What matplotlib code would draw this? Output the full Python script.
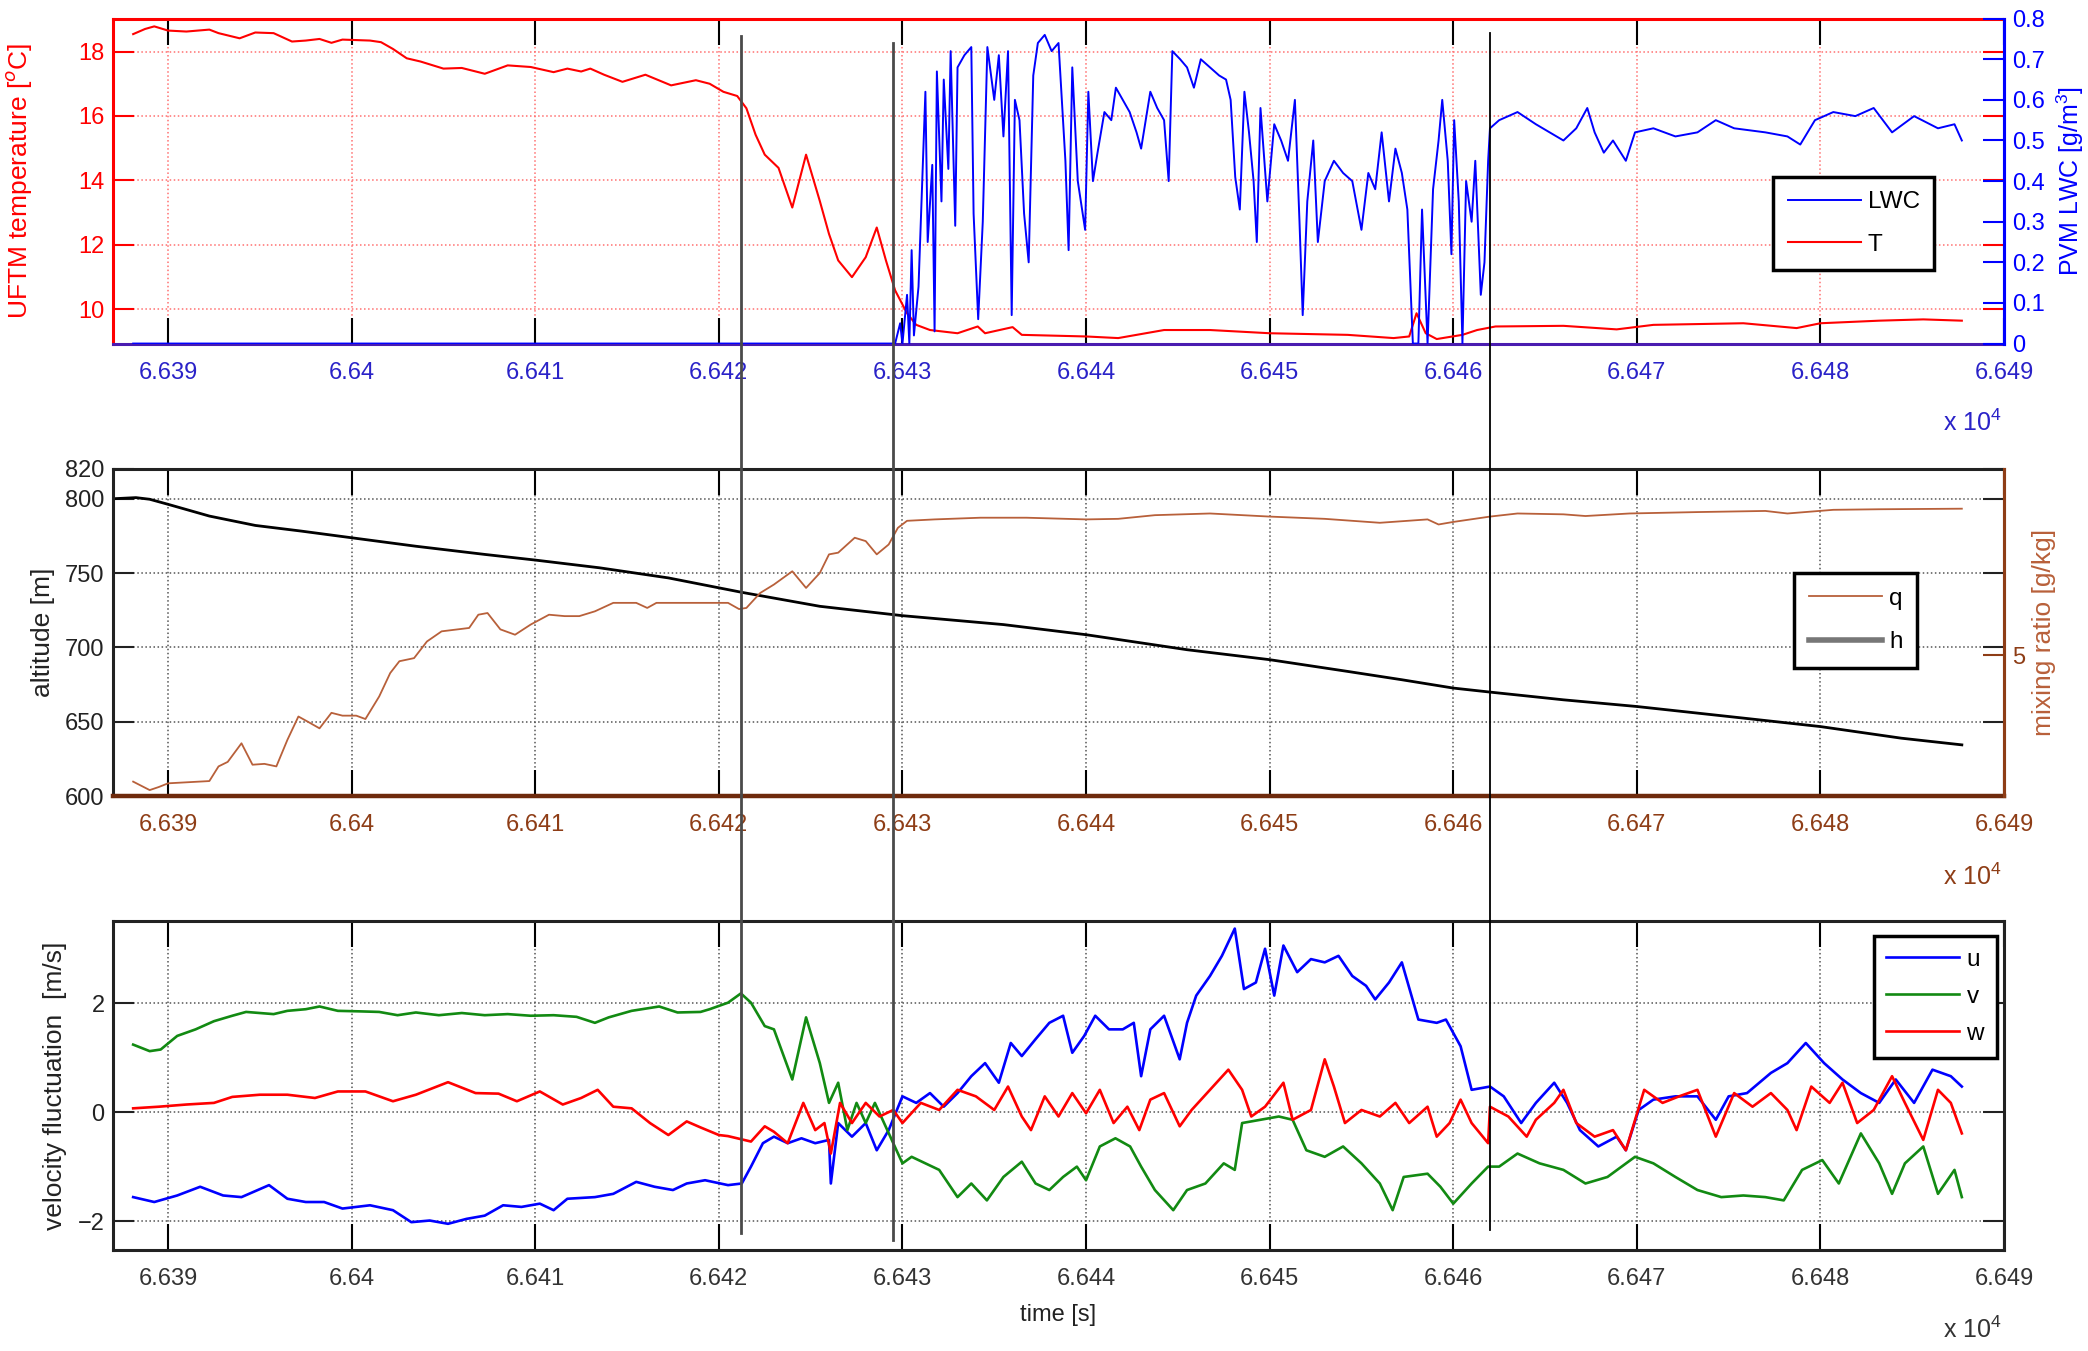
import matplotlib.pyplot as plt
import matplotlib.transforms as mtransforms
from matplotlib.lines import Line2D
from matplotlib.ticker import FuncFormatter

plt.rcParams['font.family'] = ['Liberation Sans', 'DejaVu Sans']
plt.rcParams['mathtext.fontset'] = 'custom'
plt.rcParams['mathtext.rm'] = 'Liberation Sans'

# ---- panel 1: temperature and LWC ----
T_t = [66388.1, 66388.75, 66389.25, 66390.0, 66391.0, 66392.25, 66392.75, 66393.9, 66394.75, 66395.75,
       66396.75, 66397.5, 66398.25, 66398.9, 66399.5, 66401.0, 66401.6, 66402.25, 66403.0, 66403.75,
       66405.0, 66406.0, 66407.25, 66408.5, 66409.75, 66411.0, 66411.75, 66412.5, 66413.0, 66413.75,
       66414.75, 66416.0, 66417.4, 66418.75, 66419.5, 66420.25, 66421.0, 66421.5, 66422.0, 66422.5,
       66423.25, 66424.0, 66424.75, 66425.5, 66426.0, 66426.5, 66427.25, 66428.0, 66428.6, 66429.1,
       66429.6, 66430.25, 66430.75, 66431.5, 66433.0, 66434.1, 66434.5, 66436.0, 66436.5, 66440.0,
       66441.75, 66444.25, 66446.75, 66450.0, 66454.25, 66456.75, 66457.6, 66458.0, 66458.5, 66459.1,
       66460.5, 66461.3, 66462.3, 66466.0, 66468.9, 66470.9, 66475.8, 66478.7, 66480.0, 66483.2,
       66485.6, 66487.7]
T = [18.54, 18.70, 18.78, 18.65, 18.62, 18.68, 18.57, 18.41, 18.59, 18.57,
     18.31, 18.34, 18.39, 18.27, 18.37, 18.34, 18.29, 18.08, 17.79, 17.69,
     17.47, 17.49, 17.31, 17.57, 17.52, 17.36, 17.47, 17.38, 17.47, 17.28,
     17.06, 17.28, 16.95, 17.11, 17.0, 16.75, 16.62, 16.24, 15.42, 14.80,
     14.39, 13.16, 14.80, 13.36, 12.34, 11.52, 11.0, 11.62, 12.54, 11.52,
     10.59, 9.88, 9.52, 9.36, 9.26, 9.47, 9.26, 9.45, 9.21, 9.16,
     9.11, 9.36, 9.36, 9.26, 9.21, 9.11, 9.16, 9.88, 9.26, 9.08,
     9.21, 9.36, 9.47, 9.49, 9.38, 9.52, 9.57, 9.42, 9.57, 9.65,
     9.69, 9.65]

lwc_t = [66388.1, 66429.6, 66429.875, 66430.0, 66430.25, 66430.375, 66430.5, 66430.625, 66430.875, 66431.0,
         66431.25, 66431.375, 66431.625, 66431.75, 66431.875, 66432.125, 66432.25, 66432.5, 66432.625, 66432.875,
         66433.0, 66433.375, 66433.75, 66433.875, 66434.125, 66434.375, 66434.625, 66435.0, 66435.25, 66435.5,
         66435.75, 66435.95, 66436.125, 66436.375, 66436.625, 66436.875, 66437.125, 66437.375, 66437.75, 66438.125,
         66438.5, 66438.875, 66439.05, 66439.25, 66439.55, 66439.95, 66440.125, 66440.375, 66440.625, 66441.0,
         66441.375, 66441.625, 66442.0, 66442.375, 66442.75, 66443.0, 66443.25, 66443.5, 66443.875, 66444.25,
         66444.5, 66444.7, 66445.125, 66445.5, 66445.875, 66446.25, 66446.75, 66447.25, 66447.625, 66447.875,
         66448.125, 66448.375, 66448.625, 66448.875, 66449.125, 66449.3, 66449.5, 66449.875, 66450.25, 66450.625,
         66451.0, 66451.375, 66451.625, 66451.8, 66452.05, 66452.375, 66452.625, 66453.0, 66453.5, 66454.0,
         66454.5, 66455.0, 66455.375, 66455.75, 66456.1, 66456.5, 66456.85, 66457.2, 66457.5, 66457.8,
         66458.1, 66458.3, 66458.6, 66458.9, 66459.2, 66459.4, 66459.7, 66459.9, 66460.05, 66460.3,
         66460.5, 66460.7, 66461.0, 66461.2, 66461.5, 66461.7, 66461.9, 66462.0, 66462.5, 66463.5,
         66464.5, 66466.0, 66466.7, 66467.3, 66467.7, 66468.2, 66468.7, 66469.4, 66469.9, 66470.9,
         66472.1, 66473.3, 66474.3, 66475.3, 66477.0, 66478.2, 66478.9, 66479.7, 66480.7, 66481.9,
         66482.9, 66483.9, 66485.1, 66486.4, 66487.3, 66487.7]
lwc = [0, 0, 0.05, 0.0, 0.12, 0.0, 0.23, 0.02, 0.14, 0.30,
       0.62, 0.25, 0.44, 0.03, 0.67, 0.35, 0.65, 0.43, 0.72, 0.29,
       0.68, 0.71, 0.73, 0.32, 0.06, 0.30, 0.73, 0.60, 0.71, 0.51,
       0.72, 0.07, 0.60, 0.55, 0.32, 0.20, 0.66, 0.74, 0.76, 0.72,
       0.74, 0.45, 0.23, 0.68, 0.40, 0.28, 0.62, 0.40, 0.47, 0.57,
       0.55, 0.63, 0.60, 0.57, 0.52, 0.48, 0.55, 0.62, 0.58, 0.55,
       0.40, 0.72, 0.70, 0.68, 0.63, 0.70, 0.68, 0.66, 0.65, 0.60,
       0.41, 0.33, 0.62, 0.52, 0.40, 0.25, 0.58, 0.35, 0.54, 0.50,
       0.45, 0.60, 0.30, 0.07, 0.35, 0.50, 0.25, 0.40, 0.45, 0.42,
       0.40, 0.28, 0.42, 0.38, 0.52, 0.35, 0.48, 0.42, 0.33, 0.0,
       0.0, 0.33, 0.0, 0.38, 0.50, 0.60, 0.45, 0.22, 0.55, 0.35,
       0.0, 0.40, 0.30, 0.45, 0.12, 0.20, 0.45, 0.53, 0.55, 0.57,
       0.54, 0.50, 0.53, 0.58, 0.52, 0.47, 0.50, 0.45, 0.52, 0.53,
       0.51, 0.52, 0.55, 0.53, 0.52, 0.51, 0.49, 0.55, 0.57, 0.56,
       0.58, 0.52, 0.56, 0.53, 0.54, 0.50]

# ---- panel 2: altitude and mixing ratio ----
h_t = [66387.1, 66388.25, 66389.0, 66390.0, 66392.25, 66394.75, 66397.25, 66400.0, 66403.5, 66407.25,
       66410.0, 66413.5, 66417.25, 66421.25, 66425.5, 66430.0, 66435.5, 66440.0, 66445.5, 66450.0,
       66454.25, 66457.2, 66460.0, 66462.0, 66466.0, 66470.0, 66475.8, 66480.0, 66484.4, 66487.7]
h = [800.0, 800.7, 799.6, 796.2, 788.3, 782.0, 778.2, 773.7, 768.0, 762.5,
     758.7, 753.5, 746.7, 737.0, 727.6, 721.3, 715.3, 708.5, 698.4, 691.7,
     683.8, 678.2, 672.6, 669.9, 664.7, 660.2, 652.4, 646.7, 638.9, 634.4]

q_t = [66388.1, 66389.0, 66389.5, 66390.0, 66392.25, 66392.75, 66393.25, 66394.0, 66394.6, 66395.25,
       66395.9, 66396.5, 66397.1, 66397.6, 66398.25, 66398.9, 66399.5, 66400.25, 66400.75, 66401.5,
       66402.1, 66402.6, 66403.4, 66404.1, 66404.9, 66406.4, 66406.9, 66407.4, 66408.1, 66408.9,
       66409.75, 66410.75, 66411.6, 66412.4, 66413.25, 66414.25, 66415.5, 66416.1, 66416.6, 66418.5,
       66420.5, 66421.1, 66421.5, 66422.25, 66423.0, 66424.0, 66424.75, 66425.5, 66426.0, 66426.5,
       66427.4, 66428.0, 66428.6, 66429.25, 66429.75, 66430.25, 66431.75, 66434.25, 66436.75, 66440.0,
       66441.75, 66443.75, 66446.75, 66450.0, 66453.0, 66456.0, 66458.6, 66459.2, 66460.0, 66462.0,
       66463.5, 66466.0, 66467.2, 66469.6, 66473.3, 66477.0, 66478.2, 66480.7, 66483.2, 66487.7]
q = [4.551, 4.521, 4.532, 4.545, 4.553, 4.605, 4.621, 4.687, 4.611, 4.614,
     4.605, 4.699, 4.782, 4.764, 4.740, 4.795, 4.785, 4.785, 4.773, 4.853,
     4.936, 4.978, 4.989, 5.048, 5.084, 5.096, 5.143, 5.149, 5.091, 5.072,
     5.108, 5.143, 5.138, 5.138, 5.155, 5.185, 5.185, 5.167, 5.185, 5.185,
     5.185, 5.163, 5.167, 5.220, 5.250, 5.297, 5.238, 5.291, 5.357, 5.363,
     5.416, 5.404, 5.357, 5.392, 5.451, 5.476, 5.481, 5.487, 5.487, 5.481,
     5.483, 5.496, 5.502, 5.491, 5.483, 5.469, 5.481, 5.463, 5.472, 5.491,
     5.502, 5.499, 5.493, 5.502, 5.507, 5.511, 5.502, 5.515, 5.517, 5.519]

# ---- panel 3: velocity fluctuations ----
u_t = [66388.1, 66389.25, 66390.5, 66391.75, 66393.0, 66394.0, 66395.5, 66396.5, 66397.5, 66398.5,
       66399.5, 66401.0, 66402.25, 66403.25, 66404.25, 66405.25, 66406.25, 66407.25, 66408.25, 66409.25,
       66410.25, 66411.0, 66411.75, 66413.25, 66414.25, 66415.5, 66416.5, 66417.5, 66418.25, 66419.25,
       66420.5, 66421.25, 66421.75, 66422.4, 66423.0, 66423.75, 66424.5, 66425.25, 66426.0, 66426.1,
       66426.5, 66427.25, 66428.0, 66428.6, 66429.25, 66430.0, 66430.75, 66431.5, 66432.25, 66433.0,
       66433.75, 66434.5, 66435.25, 66435.9, 66436.5, 66437.25, 66438.0, 66438.75, 66439.25, 66439.9,
       66440.5, 66441.25, 66442.0, 66442.6, 66443.0, 66443.5, 66444.25, 66445.1, 66445.5, 66446.0,
       66446.75, 66447.4, 66448.1, 66448.6, 66449.25, 66449.75, 66450.25, 66450.75, 66451.5, 66452.25,
       66453.0, 66453.75, 66454.5, 66455.25, 66455.75, 66456.5, 66457.2, 66458.1, 66459.1, 66459.6,
       66460.4, 66461.0, 66462.0, 66462.75, 66463.7, 66464.5, 66465.5, 66466.2, 66466.9, 66467.9,
       66468.9, 66469.4, 66470.1, 66470.9, 66472.1, 66473.3, 66474.3, 66475.0, 66476.0, 66477.3,
       66478.2, 66479.2, 66480.2, 66481.2, 66482.2, 66483.2, 66484.1, 66485.1, 66486.1, 66487.1,
       66487.7]
u = [-1.56, -1.65, -1.53, -1.37, -1.53, -1.56, -1.34, -1.59, -1.65, -1.65,
     -1.77, -1.71, -1.80, -2.02, -1.99, -2.05, -1.96, -1.90, -1.71, -1.74,
     -1.68, -1.80, -1.59, -1.56, -1.50, -1.28, -1.37, -1.43, -1.31, -1.25,
     -1.34, -1.31, -1.00, -0.57, -0.45, -0.57, -0.48, -0.57, -0.51, -1.31,
     -0.20, -0.45, -0.20, -0.70, -0.33, 0.29, 0.17, 0.35, 0.10, 0.35,
     0.66, 0.90, 0.54, 1.27, 1.03, 1.34, 1.64, 1.77, 1.09, 1.40,
     1.77, 1.52, 1.52, 1.64, 0.66, 1.52, 1.77, 0.97, 1.64, 2.14,
     2.50, 2.87, 3.37, 2.26, 2.38, 3.00, 2.14, 3.06, 2.57, 2.81,
     2.75, 2.87, 2.50, 2.32, 2.07, 2.38, 2.75, 1.70, 1.64, 1.70,
     1.21, 0.41, 0.47, 0.29, -0.20, 0.17, 0.54, 0.17, -0.33, -0.63,
     -0.45, -0.70, 0.04, 0.23, 0.29, 0.29, -0.14, 0.29, 0.35, 0.72,
     0.90, 1.27, 0.90, 0.60, 0.35, 0.17, 0.60, 0.17, 0.78, 0.66,
     0.47]

v_t = [66388.1, 66389.0, 66389.6, 66390.5, 66391.5, 66392.5, 66393.5, 66394.25, 66395.0, 66395.75,
       66396.5, 66397.5, 66398.25, 66399.25, 66400.5, 66401.5, 66402.5, 66403.5, 66404.75, 66406.0,
       66407.25, 66408.5, 66409.75, 66411.0, 66412.25, 66413.25, 66414.0, 66415.25, 66416.75, 66417.75,
       66419.0, 66419.5, 66420.5, 66421.2, 66421.75, 66422.5, 66423.0, 66424.0, 66424.75, 66425.5,
       66426.0, 66426.5, 66427.0, 66427.5, 66428.0, 66428.5, 66429.0, 66429.5, 66430.0, 66430.5,
       66431.25, 66432.0, 66433.0, 66433.75, 66434.6, 66435.5, 66436.5, 66437.25, 66438.0, 66438.75,
       66439.5, 66440.0, 66440.75, 66441.6, 66442.4, 66443.0, 66443.75, 66444.75, 66445.5, 66446.5,
       66447.5, 66448.1, 66448.5, 66449.5, 66450.5, 66451.25, 66452.0, 66453.0, 66454.0, 66455.0,
       66456.0, 66456.7, 66457.3, 66458.6, 66459.3, 66460.0, 66461.0, 66461.9, 66462.5, 66463.5,
       66464.7, 66466.0, 66467.2, 66468.4, 66469.9, 66470.9, 66472.1, 66473.3, 66474.6, 66475.8,
       66477.0, 66478.0, 66479.0, 66480.1, 66481.0, 66482.2, 66483.2, 66483.9, 66484.6, 66485.6,
       66486.4, 66487.3, 66487.7]
v = [1.24, 1.12, 1.15, 1.40, 1.52, 1.67, 1.77, 1.84, 1.82, 1.80,
     1.86, 1.89, 1.94, 1.86, 1.85, 1.84, 1.78, 1.83, 1.78, 1.82,
     1.78, 1.80, 1.77, 1.78, 1.75, 1.64, 1.74, 1.86, 1.94, 1.83,
     1.84, 1.89, 2.01, 2.18, 2.01, 1.58, 1.52, 0.60, 1.74, 0.90,
     0.17, 0.54, -0.33, 0.17, -0.20, 0.17, -0.20, -0.57, -0.94, -0.82,
     -0.94, -1.06, -1.56, -1.31, -1.62, -1.19, -0.91, -1.31, -1.43, -1.19,
     -1.00, -1.25, -0.63, -0.48, -0.63, -1.00, -1.43, -1.80, -1.43, -1.31,
     -0.94, -1.06, -0.20, -0.14, -0.08, -0.14, -0.70, -0.82, -0.63, -0.94,
     -1.31, -1.80, -1.19, -1.13, -1.37, -1.68, -1.31, -1.00, -1.00, -0.76,
     -0.94, -1.06, -1.31, -1.19, -0.82, -0.94, -1.19, -1.43, -1.56, -1.53,
     -1.56, -1.62, -1.06, -0.88, -1.31, -0.39, -0.94, -1.50, -0.94, -0.63,
     -1.50, -1.06, -1.56]

w_t = [66388.1, 66389.5, 66391.0, 66392.5, 66393.5, 66395.0, 66396.5, 66398.0, 66399.25, 66400.75,
       66402.25, 66403.5, 66405.25, 66406.75, 66408.0, 66409.0, 66410.25, 66411.5, 66412.5, 66413.4,
       66414.25, 66415.25, 66416.25, 66417.25, 66418.25, 66419.0, 66420.0, 66420.5, 66421.75, 66422.5,
       66423.0, 66423.75, 66424.6, 66425.25, 66425.75, 66426.1, 66426.6, 66427.25, 66428.0, 66428.75,
       66429.5, 66430.0, 66431.0, 66432.0, 66433.0, 66434.0, 66435.0, 66435.75, 66436.5, 66437.0,
       66437.75, 66438.5, 66439.25, 66440.0, 66440.75, 66441.5, 66442.25, 66442.9, 66443.5, 66444.25,
       66445.1, 66445.75, 66446.75, 66447.75, 66448.5, 66449.0, 66449.75, 66450.75, 66451.25, 66452.25,
       66453.0, 66453.5, 66454.1, 66455.0, 66456.0, 66456.85, 66457.6, 66458.6, 66459.1, 66459.8,
       66460.4, 66461.0, 66461.9, 66462.0, 66463.0, 66464.0, 66464.5, 66465.5, 66466.0, 66466.7,
       66467.7, 66468.7, 66469.4, 66470.4, 66471.4, 66472.3, 66473.3, 66474.3, 66475.3, 66476.3,
       66477.3, 66478.2, 66478.7, 66479.5, 66480.5, 66481.2, 66482.0, 66482.9, 66483.9, 66484.6,
       66485.6, 66486.4, 66487.1, 66487.7]
w = [0.07, 0.10, 0.14, 0.17, 0.28, 0.32, 0.32, 0.26, 0.38, 0.38,
     0.20, 0.32, 0.55, 0.35, 0.34, 0.20, 0.38, 0.14, 0.26, 0.41,
     0.10, 0.07, -0.20, -0.42, -0.17, -0.28, -0.42, -0.44, -0.54, -0.26,
     -0.36, -0.57, 0.17, -0.33, -0.20, -0.76, 0.17, -0.20, 0.17, -0.08,
     0.04, -0.20, 0.17, 0.04, 0.41, 0.29, 0.04, 0.47, -0.08, -0.33,
     0.29, -0.08, 0.35, -0.02, 0.41, -0.20, 0.10, -0.33, 0.23, 0.35,
     -0.26, 0.04, 0.41, 0.78, 0.41, -0.08, 0.10, 0.54, -0.14, 0.04,
     0.97, 0.47, -0.20, 0.04, -0.08, 0.17, -0.20, 0.10, -0.45, -0.20,
     0.23, -0.20, -0.57, 0.10, -0.08, -0.45, -0.14, 0.17, 0.41, -0.20,
     -0.45, -0.33, -0.70, 0.41, 0.17, 0.29, 0.41, -0.45, 0.35, 0.10,
     0.35, 0.04, -0.33, 0.47, 0.17, 0.54, -0.20, 0.04, 0.66, 0.17,
     -0.51, 0.41, 0.17, -0.39]

# vertical marker lines (time, top, bottom in figure fraction)
vline_t = [66421.2, 66429.5, 66462.0]
vline_top = [0.9734, 0.9682, 0.9756]
vline_bot = [0.0873, 0.0822, 0.0896]

xticks = [66390 + 10 * i for i in range(11)]
xfmt = FuncFormatter(lambda x, p: f'{x / 1e4:g}')

RED = '#ff0000'
BLUE = '#0000ff'
XBLUE = '#2a22c8'
BROWN = '#b8603a'
DBROWN = '#8e3d16'
GREEN = '#128a12'
FS = 17      # tick labels
LFS = 19     # axis labels
GFS = 17.5   # legends

fig = plt.figure(figsize=(20.88, 13.51), dpi=100)
L, W = 0.0541, 0.9057
ax1 = fig.add_axes([L, 0.7457, W, 0.2405])
ax2 = fig.add_axes([L, 0.4108, W, 0.2421])
ax3 = fig.add_axes([L, 0.0748, W, 0.2435])


def setup_x(ax, labcol, botcol, topcol, gridcol):
    ax.set_xlim(66387, 66490)
    ax.set_xticks(xticks)
    ax.xaxis.set_major_formatter(xfmt)
    ax.tick_params(axis='x', direction='in', length=19, width=1.5, top=True,
                   pad=13, labelsize=FS, labelcolor=labcol)
    for tk in ax.xaxis.get_major_ticks():
        tk.tick1line.set_color(botcol)
        tk.tick2line.set_color(topcol)
    ax.grid(True, color=gridcol, linestyle=':', linewidth=1.1)
    for s in ax.spines.values():
        s.set_linewidth(2.2)


def box_legend(ax, handles, labels, anchor, spacing, pad):
    leg = ax.legend(handles, labels, loc='upper left', bbox_to_anchor=anchor,
                    fontsize=GFS, fancybox=False, edgecolor='black', framealpha=1,
                    handlelength=3.0, labelspacing=spacing, borderpad=pad,
                    handletextpad=0.3, borderaxespad=0)
    leg.get_frame().set_linewidth(2.5)
    return leg


# panel 1
ax1b = ax1.twinx()
lT, = ax1.plot(T_t, T, color=RED, lw=1.5)
lL, = ax1b.plot(lwc_t, lwc, color=BLUE, lw=1.4)
ax1.set_ylim(8.94, 19.02)
ax1.set_yticks([10, 12, 14, 16, 18])
ax1b.set_ylim(0, 0.8)
ax1b.set_yticks([0, 0.1, 0.2, 0.3, 0.4, 0.5, 0.6, 0.7, 0.8])
ax1b.yaxis.set_major_formatter(FuncFormatter(lambda y, p: f'{y:g}'))
setup_x(ax1, XBLUE, XBLUE, RED, '#ff7070')
ax1.tick_params(axis='y', direction='in', length=15, width=1.5, right=True,
                colors=RED, labelsize=FS, pad=6)
ax1b.tick_params(axis='y', direction='in', length=15, width=1.5,
                 colors=BLUE, labelsize=FS, pad=6)
ax1.spines['left'].set_color(RED)
ax1.spines['top'].set_color(RED)
ax1.spines['right'].set_color(BLUE)
ax1.spines['bottom'].set_color('#4a1cb0')
for k in ['left', 'top', 'bottom']:
    ax1b.spines[k].set_visible(False)
ax1b.spines['right'].set_color(BLUE)
ax1b.spines['right'].set_linewidth(2.2)
ax1.set_ylabel('UFTM temperature [$^o$C]', color=RED, fontsize=LFS)
ax1.yaxis.set_label_coords(-0.0416, 0.5)
ax1b.set_ylabel('PVM LWC [g/m$^3$]', color=BLUE, fontsize=18)
ax1b.yaxis.set_label_coords(1.0265, 0.5)
box_legend(ax1b, [lL, lT], ['LWC', 'T'], (0.878, 0.513), 0.84, 0.59)

# panel 2
ax2b = ax2.twinx()
ax2.plot(h_t, h, color='black', lw=2.0)
lq, = ax2b.plot(q_t, q, color=BROWN, lw=1.3)
ax2.set_ylim(600, 820)
ax2.set_yticks([600, 650, 700, 750, 800, 820])
ax2b.set_ylim(4.5, 5.66)
ax2b.set_yticks([5])
setup_x(ax2, DBROWN, DBROWN, '#222222', '#555555')
ax2.tick_params(axis='y', direction='in', length=15, width=1.5, right=True,
                colors='#222222', labelsize=FS, pad=6)
ax2b.tick_params(axis='y', direction='in', length=15, width=1.5,
                 colors=DBROWN, labelsize=FS, pad=6)
ax2.spines['left'].set_color('#222222')
ax2.spines['top'].set_color('#222222')
ax2.spines['right'].set_color(DBROWN)
ax2.spines['bottom'].set_color('#6e2a0c')
ax2.spines['bottom'].set_linewidth(3.2)
for k in ['left', 'top', 'bottom']:
    ax2b.spines[k].set_visible(False)
ax2b.spines['right'].set_color(DBROWN)
ax2b.spines['right'].set_linewidth(2.2)
ax2.set_ylabel('altitude [m]', color='#222222', fontsize=LFS)
ax2.yaxis.set_label_coords(-0.0305, 0.5)
ax2b.set_ylabel('mixing ratio [g/kg]', color=BROWN, fontsize=LFS)
ax2b.yaxis.set_label_coords(1.0150, 0.5)
h_proxy = Line2D([], [], color='#777777', lw=4)
box_legend(ax2b, [lq, h_proxy], ['q', 'h'], (0.889, 0.682), 0.9, 0.6)

# panel 3
lu, = ax3.plot(u_t, u, color=BLUE, lw=1.9)
lv, = ax3.plot(v_t, v, color=GREEN, lw=1.9)
lw_, = ax3.plot(w_t, w, color=RED, lw=1.9)
ax3.set_ylim(-2.53, 3.51)
ax3.set_yticks([-2, 0, 2])
setup_x(ax3, '#333333', '#222222', '#222222', '#555555')
ax3.tick_params(axis='y', direction='in', length=15, width=1.5, right=True,
                colors='#222222', labelsize=FS, pad=6)
for s in ax3.spines.values():
    s.set_color('#222222')
ax3.set_ylabel('velocity fluctuation  [m/s]', color='#222222', fontsize=LFS)
ax3.yaxis.set_label_coords(-0.0241, 0.5)
ax3.set_xlabel('time [s]', color='#222222', fontsize=FS)
ax3.xaxis.set_label_coords(0.5, -0.165)
box_legend(ax3, [lu, lv, lw_], ['u', 'v', 'w'], (0.931, 0.954), 0.62, 0.52)

# exponent labels
fig.text(0.9585, 1 - 423 / 1351, 'x 10$^4$', ha='right', va='center', color=XBLUE, fontsize=18)
fig.text(0.9585, 1 - 877 / 1351, 'x 10$^4$', ha='right', va='center', color=DBROWN, fontsize=18)
fig.text(0.9585, 1 - 1330 / 1351, 'x 10$^4$', ha='right', va='center', color='#333333', fontsize=18)

# vertical lines across all panels
trans = mtransforms.blended_transform_factory(ax1.transData, fig.transFigure)
vcols = ['#4a4a4a', '#4a4a4a', 'black']
vlws = [2.0, 2.0, 1.3]
for t0, y0, y1, c, lwv in zip(vline_t, vline_top, vline_bot, vcols, vlws):
    fig.add_artist(Line2D([t0, t0], [y0, y1], transform=trans, color=c, lw=lwv))

fig.savefig('out.png', dpi=100)
